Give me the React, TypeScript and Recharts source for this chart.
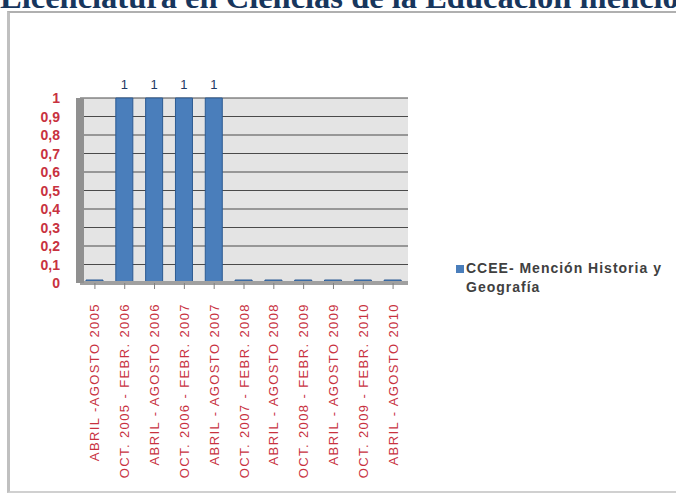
import React from 'react';
import { BarChart, Bar, XAxis, YAxis, CartesianGrid, LabelList } from 'recharts';

const categories = [
  'ABRIL -AGOSTO 2005',
  'OCT. 2005 - FEBR. 2006',
  'ABRIL - AGOSTO 2006',
  'OCT. 2006 - FEBR. 2007',
  'ABRIL - AGOSTO 2007',
  'OCT. 2007 - FEBR. 2008',
  'ABRIL - AGOSTO 2008',
  'OCT. 2008 - FEBR. 2009',
  'ABRIL - AGOSTO 2009',
  'OCT. 2009 - FEBR. 2010',
  'ABRIL - AGOSTO 2010',
];
const seriesValues = [0, 1, 1, 1, 1, 0, 0, 0, 0, 0, 0];
const yTicks = [0, 0.1, 0.2, 0.3, 0.4, 0.5, 0.6, 0.7, 0.8, 0.9, 1];
const legendLines = ['CCEE- Mención Historia y', 'Geografía'];
const seriesName = legendLines.join(' ');
const titleText = 'Licenciatura en Ciencias de la Educación mencio';

const data = categories.map((c, i) => ({ name: c, value: seriesValues[i] }));

const RED = '#c8323f';
const BAR = '#4a7ebb';

const XTick = (props: any) => {
  const { x, y, payload } = props;
  return (
    <g transform={`translate(${x},${y + 12})`}>
      <text
        transform="rotate(-90)"
        textAnchor="end"
        dominantBaseline="central"
        fill={RED}
        fontSize={13}
        letterSpacing={1.4}
        fontFamily="'Liberation Sans', Arial, sans-serif"
      >
        {payload.value}
      </text>
    </g>
  );
};

const YTick = (props: any) => {
  const { x, y, payload } = props;
  return (
    <text
      x={x - 12}
      y={y}
      textAnchor="end"
      dominantBaseline="central"
      fill={RED}
      fontSize={14}
      fontWeight="bold"
      fontFamily="'Liberation Sans', Arial, sans-serif"
    >
      {String(payload.value).replace('.', ',')}
    </text>
  );
};

export default function App() {
  return (
    <div style={{ position: 'fixed', left: 0, top: 0, width: 676, height: 498, background: '#fff', overflow: 'hidden' }}>
      <div
        style={{
          position: 'absolute',
          left: 0,
          top: -20,
          whiteSpace: 'nowrap',
          fontFamily: "'Liberation Serif', 'Times New Roman', serif",
          fontWeight: 'bold',
          fontSize: 32.5,
          color: '#17365d',
          lineHeight: '34px',
        }}
      >
        {titleText}
      </div>
      <div
        style={{
          position: 'absolute',
          left: 7,
          top: 11,
          width: 669,
          height: 482,
          borderTop: '2px solid #b0b0b0',
          borderLeft: '3px solid #c0c0c0',
          borderBottom: '2px solid #d0d0d0',
          boxSizing: 'border-box',
        }}
      />
      <div style={{ position: 'absolute', left: 0, top: 0 }}>
        <BarChart
          width={676}
          height={498}
          data={data}
          margin={{ top: 98, right: 268, bottom: 25, left: 20 }}
          barSize={17}
        >
          <CartesianGrid vertical={false} stroke="#4a4a4a" fill="#e4e4e4" strokeWidth={1} />
          <XAxis
            dataKey="name"
            interval={0}
            height={190}
            tick={<XTick />}
            tickLine={{ stroke: '#808080' }}
            tickSize={6}
            axisLine={{ stroke: '#a0a0a0', strokeWidth: 4 }}
          />
          <YAxis
            domain={[0, 1]}
            ticks={yTicks}
            interval={0}
            width={60}
            tick={<YTick />}
            tickLine={false}
            axisLine={{ stroke: '#909090', strokeWidth: 8 }}
          />
          <Bar
            dataKey="value"
            name={seriesName}
            fill={BAR}
            stroke="#2c5a92"
            strokeWidth={1}
            minPointSize={3}
            isAnimationActive={false}
          >
            <LabelList
              dataKey="value"
              position="top"
              offset={9}
              fill="#1f3864"
              fontSize={13}
              fontFamily="'Liberation Sans', Arial, sans-serif"
              formatter={(v: any) => (v ? String(v) : '')}
            />
          </Bar>
        </BarChart>
      </div>
      <div
        style={{
          position: 'absolute',
          left: 456,
          top: 259,
          width: 218,
          fontFamily: "'Liberation Sans', Arial, sans-serif",
          fontWeight: 'bold',
          fontSize: 14,
          letterSpacing: 1,
          color: '#404040',
          lineHeight: '19px',
          display: 'flex',
        }}
      >
        <span style={{ display: 'inline-block', width: 8, height: 8, background: BAR, marginTop: 6, marginRight: 2, flex: 'none' }} />
        <span>
          {legendLines[0]}
          <br />
          {legendLines[1]}
        </span>
      </div>
    </div>
  );
}
